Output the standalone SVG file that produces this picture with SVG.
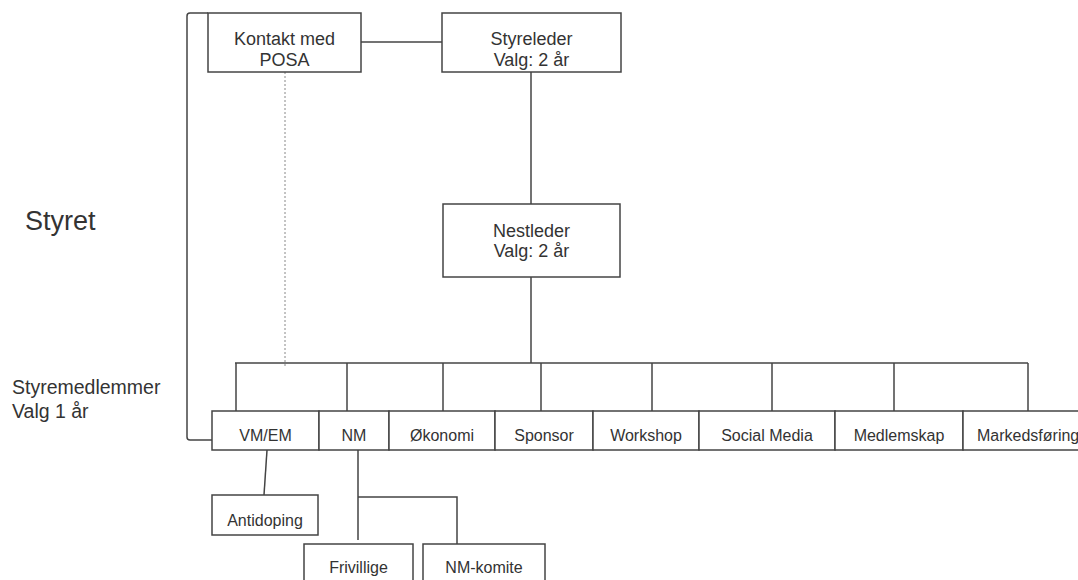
<svg xmlns="http://www.w3.org/2000/svg" width="1078" height="580" viewBox="0 0 1078 580">
<style>
.box{fill:#fff;stroke:#444;stroke-width:1.5}
.ln{fill:none;stroke:#444;stroke-width:1.5}
.dot{fill:none;stroke:#888;stroke-width:1;stroke-dasharray:2,2}
text{font-family:"Liberation Sans",Arial,sans-serif;fill:#333;text-anchor:middle}
.bt{font-size:18px}
.mt{font-size:16px}
.lt{text-anchor:start}
</style>
<rect width="1078" height="580" fill="#fff"/>
<g id="connectors">
<path class="ln" d="M208,13 H190 Q187,13 187,16 V437 Q187,440 190,440 H212"/>
<line class="ln" x1="361" y1="42" x2="442" y2="42"/>
<line class="dot" x1="285" y1="72" x2="285" y2="366"/>
<line class="ln" x1="531" y1="72" x2="531" y2="204"/>
<line class="ln" x1="531" y1="277" x2="531" y2="363"/>
<line class="ln" x1="235" y1="363" x2="1028" y2="363"/>
<line class="ln" x1="236" y1="363" x2="236" y2="411"/>
<line class="ln" x1="347" y1="363" x2="347" y2="411"/>
<line class="ln" x1="443" y1="363" x2="443" y2="411"/>
<line class="ln" x1="541" y1="363" x2="541" y2="411"/>
<line class="ln" x1="652" y1="363" x2="652" y2="411"/>
<line class="ln" x1="772" y1="363" x2="772" y2="411"/>
<line class="ln" x1="894" y1="363" x2="894" y2="411"/>
<line class="ln" x1="1028" y1="363" x2="1028" y2="411"/>
<line class="ln" x1="267" y1="450" x2="264" y2="495"/>
<path class="ln" d="M358,450 V540 M358,497 H457 V544"/>
</g>
<g id="label-styret"><text class="lt" x="25" y="230" style="font-size:27px">Styret</text></g>
<g id="label-styremedlemmer"><text class="lt" x="12" y="394" style="font-size:19.5px">Styremedlemmer</text><text class="lt" x="12" y="418" style="font-size:19.5px">Valg 1 år</text></g>
<g id="kontakt"><rect class="box" x="208" y="13" width="153" height="59"/><text class="bt" x="284.5" y="45">Kontakt med</text><text class="bt" x="284.5" y="66">POSA</text></g>
<g id="styreleder"><rect class="box" x="442" y="13" width="179" height="59"/><text class="bt" x="531.5" y="45">Styreleder</text><text class="bt" x="531.5" y="66">Valg: 2 år</text></g>
<g id="nestleder"><rect class="box" x="443" y="204" width="177" height="73"/><text class="bt" x="531.5" y="237">Nestleder</text><text class="bt" x="531.5" y="257">Valg: 2 år</text></g>
<g id="vmem"><rect class="box" x="212" y="411" width="107" height="39"/><text class="mt" x="265.5" y="441">VM/EM</text></g>
<g id="nm"><rect class="box" x="319" y="411" width="70" height="39"/><text class="mt" x="354" y="441">NM</text></g>
<g id="okonomi"><rect class="box" x="389" y="411" width="106" height="39"/><text class="mt" x="442" y="441">Økonomi</text></g>
<g id="sponsor"><rect class="box" x="495" y="411" width="98" height="39"/><text class="mt" x="544" y="441">Sponsor</text></g>
<g id="workshop"><rect class="box" x="593" y="411" width="106" height="39"/><text class="mt" x="646" y="441">Workshop</text></g>
<g id="socialmedia"><rect class="box" x="699" y="411" width="136" height="39"/><text class="mt" x="767" y="441">Social Media</text></g>
<g id="medlemskap"><rect class="box" x="835" y="411" width="128" height="39"/><text class="mt" x="899" y="441">Medlemskap</text></g>
<g id="markedsforing"><rect class="box" x="963" y="411" width="130" height="39"/><text class="mt lt" x="977" y="441">Markedsføring</text></g>
<g id="antidoping"><rect class="box" x="212" y="495" width="106" height="40"/><text class="mt" x="265" y="526">Antidoping</text></g>
<g id="frivillige"><rect class="box" x="304" y="544" width="109" height="45"/><text class="mt" x="358.5" y="573">Frivillige</text></g>
<g id="nmkomite"><rect class="box" x="423" y="544" width="122" height="45"/><text class="mt" x="484" y="573">NM-komite</text></g>
</svg>
